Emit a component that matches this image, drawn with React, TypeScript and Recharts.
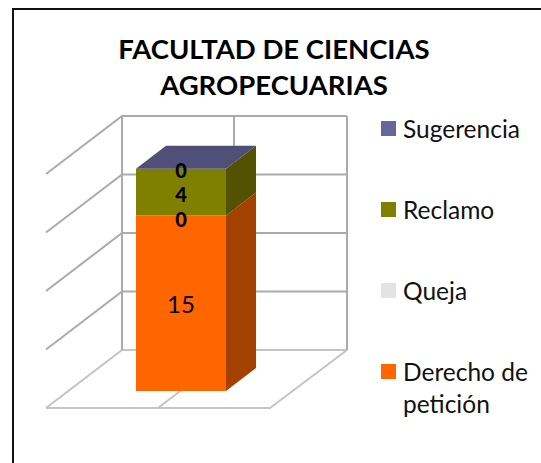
import { BarChart, Bar, XAxis, YAxis, Legend, LabelList, CartesianGrid } from 'recharts';

const categories = ['Facultad de Ciencias Agropecuarias'];
const derechoValues = [15];
const quejaValues = [0];
const reclamoValues = [4];
const sugerenciaValues = [0];
const yTicks = [0, 5, 10, 15, 20];
const titleLines = ['FACULTAD DE CIENCIAS', 'AGROPECUARIAS'];

const data = categories.map((c, i) => ({
  name: c,
  derecho: derechoValues[i],
  queja: quejaValues[i],
  reclamo: reclamoValues[i],
  sugerencia: sugerenciaValues[i],
}));

const FONT = 'Lato, sans-serif';
const GRID = '#ababab';
const FLOOR = '#c4c4c4';

// depth of the bar and of the walls, relative to the plane of the bar front
const BAR_DX = 30;
const BAR_DY = -23;

// the grid runs through the bar plane, so each line is pushed back onto the walls
const WallLine = ({ y1, y, height }: any) => {
  const isFloor = Math.abs(y1 - (y + height)) < 1;
  const frontY = y1 + 17;
  const backY = y1 - 41;
  return (
    <g key={y1}>
      <polyline
        points={`46,${frontY} 122,${backY} 347,${backY}`}
        fill="none"
        stroke={isFloor ? FLOOR : GRID}
        strokeWidth={2}
      />
      {isFloor && (
        <polyline points={`46,${frontY} 270,${frontY} 347,${backY}`} fill="none" stroke={FLOOR} strokeWidth={2} />
      )}
    </g>
  );
};

const WallUpright = ({ x1 }: any) => (
  <g key={x1} stroke={GRID} strokeWidth={2} fill="none">
    <line x1={x1 - 59} y1={116} x2={x1 - 59} y2={350} />
    <line x1={x1 + 53} y1={116} x2={x1 + 53} y2={350} />
    <line x1={x1 + 166} y1={116} x2={x1 + 166} y2={350} />
    <line x1={x1 + 53} y1={350} x2={x1 - 23} y2={408} stroke={FLOOR} />
  </g>
);

const Box = ({ x, y, width, height, fill, side, top }: any) => {
  const r = x + width;
  const b = y + height;
  return (
    <g>
      {height > 0 && <rect x={x} y={y} width={width} height={height} fill={fill} />}
      {height > 0 && (
        <polygon
          points={`${r},${y} ${r + BAR_DX},${y + BAR_DY} ${r + BAR_DX},${b + BAR_DY} ${r},${b}`}
          fill={side}
        />
      )}
      {top && (
        <polygon
          points={`${x},${y} ${x + BAR_DX},${y + BAR_DY} ${r + BAR_DX},${y + BAR_DY} ${r},${y}`}
          fill={top}
        />
      )}
    </g>
  );
};

const legendColors: Record<string, string> = {
  Sugerencia: '#666699',
  Reclamo: '#808000',
  Queja: '#e3e3e3',
  'Derecho de petición': '#ff6600',
};
const legendNames = ['Sugerencia', 'Reclamo', 'Queja', 'Derecho de petición'];

const LegendList = () => (
  <div style={{ fontFamily: FONT, fontSize: 24.5, color: '#111', lineHeight: '32px' }}>
    {legendNames.map((n) => (
      <div key={n} style={{ display: 'flex', height: 81, alignItems: 'flex-start' }}>
        <span style={{ width: 15, height: 15, marginTop: 8, marginRight: 7, flexShrink: 0, background: legendColors[n] }} />
        <span>{n}</span>
      </div>
    ))}
  </div>
);

const BarLabel = (dy: number, size: number, weight: number) => ({ x, y, width, height, value }: any) => (
  <text
    x={x + width / 2}
    y={y + height / 2 + dy}
    textAnchor="middle"
    dominantBaseline="central"
    fontFamily={FONT}
    fontSize={size}
    fontWeight={weight}
    fill="#000"
  >
    {value}
  </text>
);

export default function App() {
  return (
    <div
      style={{
        position: 'absolute',
        left: 0,
        top: 0,
        width: 541,
        height: 463,
        background: '#fff',
        overflow: 'hidden',
      }}
    >
      <div
        style={{
          position: 'absolute',
          left: 12,
          top: 8,
          width: 541,
          height: 470,
          border: '2.5px solid #111',
          boxSizing: 'border-box',
        }}
      />
      <div
        style={{
          position: 'absolute',
          left: 12,
          width: 524,
          top: 31,
          textAlign: 'center',
          fontFamily: FONT,
          fontWeight: 700,
          fontSize: 27.5,
          lineHeight: '36px',
          color: '#000',
        }}
      >
        {titleLines.map((l) => (
          <div key={l}>{l}</div>
        ))}
      </div>
      <BarChart
        width={541}
        height={463}
        data={data}
        barCategoryGap={0}
        margin={{ top: 157, right: 165, bottom: 72, left: 136 }}
        style={{ position: 'absolute', left: 0, top: 0 }}
      >
        <CartesianGrid horizontal={WallLine} vertical={WallUpright} syncWithTicks />
        <XAxis dataKey="name" hide />
        <YAxis domain={[0, 20]} ticks={yTicks} interval={0} hide />
        <Legend
          layout="vertical"
          align="right"
          verticalAlign="top"
          content={LegendList}
          wrapperStyle={{ left: 381, top: 113, width: 150 }}
        />
        <Bar
          dataKey="derecho"
          name="Derecho de petición"
          stackId="a"
          fill="#ff6600"
          isAnimationActive={false}
          shape={(p: any) => <Box {...p} side="#a34100" />}
        >
          <LabelList dataKey="derecho" content={BarLabel(0, 24, 400)} />
        </Bar>
        <Bar
          dataKey="queja"
          name="Queja"
          stackId="a"
          fill="#e3e3e3"
          isAnimationActive={false}
          shape={(p: any) => <Box {...p} side="#919191" />}
        >
          <LabelList dataKey="queja" content={BarLabel(3, 20, 900)} />
        </Bar>
        <Bar
          dataKey="reclamo"
          name="Reclamo"
          stackId="a"
          fill="#808000"
          isAnimationActive={false}
          shape={(p: any) => <Box {...p} side="#525200" />}
        >
          <LabelList dataKey="reclamo" content={BarLabel(2, 20, 900)} />
        </Bar>
        <Bar
          dataKey="sugerencia"
          name="Sugerencia"
          stackId="a"
          fill="#666699"
          isAnimationActive={false}
          shape={(p: any) => <Box {...p} side="#414162" top="#4f4f78" />}
        >
          <LabelList dataKey="sugerencia" content={BarLabel(1, 20, 900)} />
        </Bar>
      </BarChart>
    </div>
  );
}
